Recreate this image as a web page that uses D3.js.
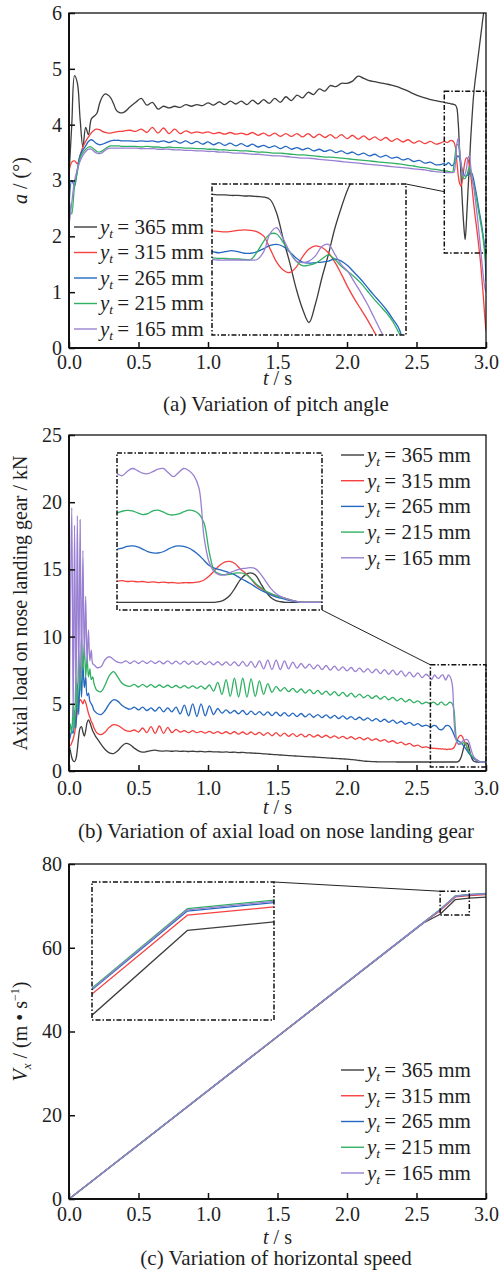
<!DOCTYPE html>
<html><head><meta charset="utf-8">
<script src="https://cdn.jsdelivr.net/npm/d3@7"></script>
<style>
body{margin:0;background:#fff;}
svg, svg text{font-family:'Liberation Serif',serif;fill:#1e1e1e;}
</style></head><body>
<svg id="c" width="501" height="1270"></svg>
<script>
// ---------- shared ----------
const seriesNames = ["365", "315", "265", "215", "165"];
const seriesColors = ["#3d3d3d", "#f5403f", "#2367c1", "#2fb062", "#9a80d2"];
const timeTicks = [0, 0.5, 1.0, 1.5, 2.0, 2.5, 3.0];
const pitchTicks = [0, 1, 2, 3, 4, 5, 6];
const loadTicks = [0, 5, 10, 15, 20, 25];
const speedTicks = [0, 20, 40, 60, 80];

// ---------- (a) pitch angle ----------
const tA = [0,0.02,0.04,0.06,0.08,0.10,0.12,0.14,0.16,0.18,0.20,0.22,0.24,0.26,0.28,0.30,0.32,0.34,0.36,0.38,0.40,
0.44,0.48,0.52,0.56,0.60,0.64,0.68,0.72,0.76,0.80,
0.84,0.88,0.92,0.96,1.00,1.04,1.08,1.12,1.16,1.20,
1.24,1.28,1.32,1.36,1.40,1.44,1.48,1.52,1.56,1.60,
1.64,1.68,1.72,1.76,1.80,1.84,1.88,1.92,1.96,2.00,
2.04,2.08,2.12,2.16,2.20,2.24,2.28,2.32,2.36,2.40,
2.44,2.48,2.52,2.56,2.60,2.64,2.68,
2.70,2.71,2.72,2.73,2.74,2.75,2.76,2.77,2.78,2.79,
2.80,2.81,2.82,2.83,2.84,2.85,2.86,2.87,2.88,2.89,
2.90,2.91,2.92,2.93,2.94,2.95,2.96,2.97,2.98,2.99,3.00];
const pitch365 = [3.1,4.0,4.88,4.75,4.1,3.6,3.95,3.82,4.1,4.15,4.2,4.38,4.5,4.55,4.53,4.48,4.38,4.26,4.22,4.21,4.23,
4.32,4.40,4.47,4.35,4.40,4.28,4.33,4.30,4.33,4.31,
4.36,4.33,4.36,4.34,4.39,4.35,4.41,4.36,4.42,4.37,
4.42,4.36,4.44,4.37,4.45,4.38,4.47,4.40,4.50,4.43,
4.53,4.48,4.58,4.54,4.64,4.60,4.70,4.68,4.74,4.74,
4.78,4.87,4.83,4.79,4.77,4.75,4.73,4.71,4.68,4.64,
4.60,4.55,4.51,4.48,4.45,4.43,4.41,
4.40,4.39,4.39,4.38,4.38,4.37,4.37,4.36,4.35,4.30,
4.04,3.55,3.10,2.60,2.20,1.94,2.30,2.80,3.25,3.75,
4.15,4.50,4.75,4.95,5.15,5.35,5.55,5.75,5.95,6.10,6.20];
const pitch315 = [3.15,3.33,3.35,3.30,3.45,3.60,3.70,3.78,3.85,3.90,3.92,3.91,3.88,3.86,3.85,3.85,3.86,3.87,3.88,3.88,3.89,
3.90,3.88,3.92,3.86,3.95,3.85,3.94,3.84,3.92,3.84,
3.89,3.85,3.87,3.85,3.87,3.84,3.86,3.83,3.86,3.83,
3.85,3.82,3.86,3.81,3.85,3.80,3.85,3.79,3.84,3.79,
3.84,3.78,3.84,3.77,3.83,3.77,3.82,3.76,3.82,3.75,
3.81,3.74,3.80,3.73,3.78,3.72,3.77,3.70,3.75,3.69,
3.73,3.67,3.71,3.66,3.70,3.65,3.68,
3.70,3.69,3.68,3.69,3.71,3.72,3.71,3.68,3.60,3.35,
3.10,2.95,2.90,3.00,3.20,3.35,3.41,3.38,3.28,3.10,
2.87,2.62,2.40,2.20,2.00,1.78,1.55,1.25,0.95,0.60,0.30];
const pitch265 = [2.50,3.00,2.90,3.20,3.45,3.55,3.62,3.70,3.73,3.70,3.66,3.64,3.65,3.67,3.69,3.71,3.72,3.72,3.72,3.71,3.71,
3.71,3.70,3.71,3.70,3.71,3.69,3.71,3.68,3.71,3.67,
3.71,3.66,3.70,3.65,3.69,3.64,3.68,3.63,3.67,3.62,
3.66,3.61,3.65,3.60,3.63,3.59,3.62,3.57,3.61,3.56,
3.59,3.55,3.58,3.53,3.56,3.52,3.55,3.50,3.53,3.48,
3.51,3.46,3.49,3.44,3.47,3.42,3.45,3.40,3.42,3.37,
3.39,3.34,3.36,3.31,3.33,3.28,3.29,
3.30,3.28,3.30,3.32,3.30,3.27,3.27,3.30,3.36,3.42,
3.44,3.40,3.30,3.18,3.10,3.08,3.09,3.10,3.12,3.16,
3.12,3.03,2.90,2.77,2.62,2.47,2.33,2.18,2.00,1.80,1.20];
const pitch215 = [2.70,2.40,2.90,3.15,3.40,3.50,3.56,3.60,3.60,3.56,3.52,3.51,3.53,3.57,3.60,3.62,3.62,3.62,3.62,3.61,3.61,
3.61,3.61,3.60,3.61,3.60,3.60,3.59,3.60,3.59,3.59,
3.58,3.58,3.57,3.57,3.56,3.56,3.55,3.55,3.54,3.54,
3.53,3.53,3.52,3.51,3.51,3.50,3.49,3.49,3.48,3.47,
3.46,3.46,3.45,3.44,3.43,3.42,3.42,3.41,3.40,3.39,
3.38,3.37,3.36,3.35,3.34,3.33,3.32,3.31,3.30,3.29,
3.27,3.26,3.24,3.23,3.21,3.20,3.18,
3.18,3.17,3.17,3.16,3.16,3.15,3.15,3.30,3.50,3.64,
3.64,3.48,3.30,3.12,3.03,3.04,3.08,3.16,3.24,3.15,
3.02,2.92,2.82,2.70,2.55,2.40,2.26,2.12,1.95,1.72,1.50];
const pitch165 = [2.20,2.60,3.00,3.20,3.35,3.45,3.52,3.56,3.56,3.52,3.49,3.48,3.50,3.54,3.57,3.58,3.58,3.58,3.58,3.58,3.58,
3.58,3.58,3.57,3.57,3.57,3.56,3.56,3.56,3.55,3.55,
3.54,3.54,3.53,3.53,3.52,3.52,3.51,3.51,3.50,3.49,
3.49,3.48,3.47,3.47,3.46,3.45,3.44,3.44,3.43,3.42,
3.41,3.40,3.40,3.39,3.38,3.37,3.36,3.35,3.34,3.33,
3.32,3.31,3.30,3.29,3.28,3.27,3.26,3.25,3.24,3.23,
3.22,3.21,3.20,3.19,3.17,3.16,3.15,
3.15,3.14,3.14,3.14,3.14,3.14,3.14,3.15,3.30,3.65,
3.76,3.55,3.30,3.12,3.09,3.12,3.22,3.40,3.44,3.25,
3.05,2.92,2.72,2.52,2.30,2.05,1.80,1.55,1.30,1.10,1.00];

// ---------- (b) axial load ----------
const tB = [0,0.01,0.02,0.03,0.04,0.05,0.06,0.07,0.08,0.09,0.10,0.11,0.12,0.13,0.14,0.15,0.16,0.17,0.18,0.19,
0.20,0.23,0.26,0.29,0.32,0.35,0.38,0.41,0.44,0.47,
0.50,0.53,0.56,0.59,0.62,0.65,0.68,0.71,0.74,0.77,
0.80,0.83,0.86,0.89,0.92,0.95,0.98,1.01,1.04,1.07,
1.10,1.13,1.16,1.19,1.22,1.25,1.28,1.31,1.34,1.37,
1.40,1.43,1.46,1.49,1.52,1.55,1.58,1.61,1.64,1.67,
1.70,1.73,1.76,1.79,1.82,1.85,1.88,1.91,1.94,1.97,
2.00,2.03,2.06,2.09,2.12,2.15,2.18,2.21,2.24,2.27,
2.30,2.33,2.36,2.39,2.42,2.45,2.48,2.51,2.54,2.57,
2.60,
2.61,2.62,2.63,2.64,2.65,2.66,2.67,2.68,2.69,2.70,
2.71,2.72,2.73,2.74,2.75,2.76,2.77,2.78,2.79,2.80,
2.81,2.82,2.83,2.84,2.85,2.86,2.87,2.88,2.89,2.90,
2.91,2.92,2.93,2.94,2.95,2.96,2.97,2.98,2.99,3.00];
const load365 = [1.9,1.5,1.0,0.75,0.7,0.9,1.6,2.6,3.2,3.3,2.9,2.6,3.0,3.6,3.8,3.6,3.3,3.0,2.8,2.6,
2.45,2.0,1.6,1.35,1.3,1.5,1.85,2.05,1.95,1.7,
1.5,1.4,1.45,1.52,1.55,1.5,1.48,1.5,1.47,1.5,
1.46,1.48,1.45,1.47,1.44,1.46,1.43,1.45,1.42,1.43,
1.40,1.42,1.39,1.40,1.37,1.38,1.35,1.34,1.32,1.31,
1.28,1.26,1.23,1.22,1.19,1.17,1.15,1.13,1.11,1.09,
1.07,1.05,1.04,1.02,1.0,0.98,0.96,0.94,0.92,0.9,
0.88,0.85,0.82,0.78,0.74,0.72,0.70,0.69,0.68,0.68,
0.68,0.68,0.67,0.67,0.67,0.67,0.67,0.67,0.67,0.67,
0.67,
0.67,0.67,0.67,0.67,0.67,0.67,0.67,0.67,0.67,0.67,
0.67,0.67,0.67,0.67,0.67,0.67,0.67,0.67,0.67,0.70,
0.80,1.00,1.35,1.75,2.00,2.10,2.00,1.60,1.20,0.90,
0.75,0.70,0.67,0.67,0.67,0.67,0.67,0.67,0.67,0.67];
const load315 = [1.9,1.9,2.1,2.4,2.8,3.6,4.4,5.0,5.3,5.2,5.0,5.3,5.1,4.7,4.3,4.0,3.7,3.5,3.2,3.0,
2.85,2.70,2.90,3.25,3.45,3.40,3.20,3.00,2.95,3.05,
2.90,3.20,2.85,3.30,2.80,3.35,2.80,3.25,2.85,3.10,
2.90,3.00,2.85,3.00,2.85,2.95,2.82,2.95,2.80,2.93,
2.78,2.92,2.76,2.92,2.74,2.90,2.72,2.90,2.70,2.88,
2.66,2.86,2.62,2.85,2.60,2.82,2.58,2.78,2.56,2.75,
2.54,2.72,2.52,2.68,2.50,2.66,2.46,2.62,2.43,2.58,
2.40,2.55,2.36,2.50,2.32,2.46,2.28,2.40,2.22,2.33,
2.15,2.25,2.05,2.15,1.95,2.05,1.85,1.92,1.75,1.80,
1.70,
1.72,1.68,1.70,1.66,1.68,1.64,1.66,1.63,1.65,1.62,
1.63,1.60,1.62,1.62,1.63,1.66,1.75,1.95,2.20,2.45,
2.62,2.65,2.55,2.30,2.10,1.85,1.55,1.35,1.20,1.08,
1.00,0.92,0.85,0.78,0.72,0.68,0.67,0.67,0.67,0.67];
const load265 = [2.2,2.6,3.0,2.8,4.5,3.2,6.5,4.2,7.8,5.5,8.0,6.2,7.0,5.6,5.8,5.2,5.0,4.8,4.5,4.4,
4.30,4.20,4.50,5.00,5.30,5.20,4.90,4.70,4.60,4.75,
4.55,4.75,4.50,4.70,4.45,4.75,4.40,4.70,4.40,4.75,
4.25,4.90,4.10,5.00,4.05,5.00,4.10,4.85,4.20,4.65,
4.30,4.55,4.30,4.50,4.25,4.50,4.20,4.45,4.20,4.42,
4.15,4.40,4.12,4.38,4.10,4.35,4.08,4.30,4.05,4.28,
4.02,4.25,4.00,4.20,3.97,4.17,3.94,4.14,3.90,4.10,
3.86,4.05,3.82,4.00,3.78,3.95,3.73,3.90,3.68,3.85,
3.62,3.78,3.55,3.70,3.48,3.62,3.40,3.52,3.33,3.42,
3.25,
3.30,3.38,3.40,3.36,3.25,3.13,3.07,3.06,3.12,3.25,
3.36,3.40,3.38,3.30,3.15,2.95,2.70,2.45,2.33,2.25,
2.18,2.10,2.00,1.85,1.72,1.58,1.42,1.27,1.15,1.03,
0.94,0.87,0.80,0.74,0.70,0.67,0.67,0.67,0.67,0.67];
const load215 = [2.5,3.5,2.8,5.0,3.2,7.0,4.5,9.0,6.0,10.0,7.5,9.5,7.0,8.5,7.0,7.6,6.8,7.0,6.5,6.2,
6.00,5.90,6.40,7.10,7.40,7.00,6.55,6.35,6.30,6.45,
6.25,6.45,6.25,6.42,6.22,6.40,6.22,6.38,6.20,6.36,
6.18,6.35,6.16,6.34,6.15,6.32,6.10,6.40,5.95,6.60,
5.70,6.80,5.55,6.90,5.50,6.90,5.50,6.85,5.55,6.70,
5.70,6.50,5.85,6.30,5.95,6.20,5.90,6.15,5.85,6.10,
5.80,6.05,5.75,6.00,5.70,5.95,5.65,5.90,5.60,5.85,
5.55,5.80,5.50,5.72,5.45,5.65,5.40,5.60,5.35,5.55,
5.30,5.48,5.22,5.40,5.15,5.32,5.08,5.22,5.00,5.12,
5.00,
5.08,5.12,5.10,5.00,4.92,4.96,5.10,5.13,5.05,4.93,
4.90,4.95,5.05,5.13,5.10,4.95,4.50,3.10,2.20,2.05,
2.00,2.02,2.08,2.10,2.05,1.85,1.60,1.40,1.22,1.10,
1.00,0.92,0.85,0.78,0.72,0.67,0.67,0.67,0.67,0.67];
const load165 = [2.0,12.0,19.6,4.0,18.3,5.0,19.0,6.5,18.7,7.0,16.4,8.5,13.0,8.0,10.5,8.2,9.0,8.0,7.9,7.8,
7.70,7.75,8.30,8.50,8.30,8.10,8.05,8.20,8.00,8.20,
8.00,8.20,8.00,8.20,8.00,8.18,7.98,8.20,7.97,8.18,
7.95,8.17,7.94,8.17,7.93,8.15,7.92,8.14,7.90,8.13,
7.88,8.12,7.86,8.12,7.82,8.15,7.78,8.15,7.70,8.20,
7.60,8.25,7.55,8.25,7.55,8.20,7.60,8.10,7.65,8.00,
7.65,7.95,7.60,7.90,7.55,7.85,7.50,7.80,7.48,7.75,
7.45,7.70,7.40,7.65,7.35,7.62,7.30,7.58,7.25,7.55,
7.20,7.50,7.15,7.45,7.05,7.35,7.00,7.30,6.95,7.20,
6.90,
6.80,7.00,7.15,7.05,6.92,6.90,7.00,7.12,7.15,6.95,
6.76,6.95,7.15,7.05,6.80,6.20,3.80,2.60,2.15,2.00,
2.00,2.10,2.20,2.28,2.32,2.35,2.30,2.05,1.70,1.35,
1.10,0.95,0.85,0.77,0.72,0.67,0.67,0.67,0.67,0.67];

// ---------- (c) horizontal speed ----------
const tC = [0, 2.55, 2.67, 2.78, 2.88, 3.0];
const speed365 = [0, 65.9, 68.0, 71.5, 71.85, 72.1];
const speed315 = [0, 65.95, 68.87, 72.13, 72.47, 72.7];
const speed265 = [0, 66.0, 69.05, 72.3, 72.65, 72.85];
const speed215 = [0, 66.0, 69.12, 72.4, 72.75, 72.95];
const speed165 = [0, 66.0, 69.08, 72.35, 72.7, 72.9];

// ---------- drawing ----------
const FONTFAM = "'Liberation Serif',serif";
const svg = d3.select("#c");
const FONT = 20;

function legend(g, x1, y0, step) {
  seriesNames.forEach((nm, i) => {
    const yy = y0 + i * step;
    g.append("line").attr("x1", x1).attr("x2", x1 + 23).attr("y1", yy).attr("y2", yy)
      .attr("stroke", seriesColors[i]).attr("stroke-width", 1.4);
    const t = g.append("text").attr("x", x1 + 26).attr("y", yy + 6.8).attr("font-size", 21).style("font-family", FONTFAM);
    t.append("tspan").attr("font-style", "italic").text("y");
    t.append("tspan").attr("font-style", "italic").attr("font-size", 13.5).attr("dy", 4).text("t");
    t.append("tspan").attr("dy", -4).text("\u2009= " + nm + " mm");
  });
}

function panel(p) {
  const x = d3.scaleLinear().domain([0, 3]).range([p.L, p.R]);
  const y = d3.scaleLinear().domain(p.yDom).range([p.B, p.T]);
  const g = svg.append("g");
  const defs = svg.append("defs");
  defs.append("clipPath").attr("id", "clip" + p.id).append("rect")
    .attr("x", p.L).attr("y", p.T).attr("width", p.R - p.L).attr("height", p.B - p.T);
  defs.append("clipPath").attr("id", "iclip" + p.id).append("rect")
    .attr("x", p.inset[0]).attr("y", p.inset[1]).attr("width", p.inset[2] - p.inset[0]).attr("height", p.inset[3] - p.inset[1]);

  const pts = vals => vals.slice(0, Math.min(vals.length, p.t.length)).map((v, j) => [p.t[j], v]);

  const lg = g.append("g").attr("clip-path", `url(#clip${p.id})`);
  const line = d3.line().x(d => x(d[0])).y(d => y(d[1])).curve(p.curve);
  p.series.forEach((vals, i) => {
    lg.append("path").attr("d", line(pts(vals))).attr("fill", "none")
      .attr("stroke", seriesColors[i]).attr("stroke-width", 1.3).attr("stroke-linejoin", "round");
  });

  // frame
  g.append("rect").attr("x", p.L).attr("y", p.T).attr("width", p.R - p.L).attr("height", p.B - p.T)
    .attr("fill", "none").attr("stroke", "#111").attr("stroke-width", 1.3);
  g.append("line").attr("x1", p.L).attr("x2", p.L).attr("y1", p.T).attr("y2", p.B).attr("stroke", "#111").attr("stroke-width", 2);
  g.append("line").attr("x1", p.L).attr("x2", p.R).attr("y1", p.B).attr("y2", p.B).attr("stroke", "#111").attr("stroke-width", 2);

  const ax = g.append("g").attr("transform", `translate(0,${p.B})`)
    .call(d3.axisBottom(x).tickValues(timeTicks).tickFormat(d3.format(".1f")).tickSizeInner(-6).tickSizeOuter(0).tickPadding(p.xPad));
  const ay = g.append("g").attr("transform", `translate(${p.L},0)`)
    .call(d3.axisLeft(y).tickValues(p.yTicks).tickFormat(d3.format("d")).tickSizeInner(-6).tickSizeOuter(0).tickPadding(7));
  [ax, ay].forEach(a => {
    a.select(".domain").remove();
    a.attr("font-family", null).attr("font-size", FONT);
    a.selectAll("line").attr("stroke", "#111").attr("stroke-width", 1.5);
    a.selectAll("text").attr("fill", "#1e1e1e").style("font-family", FONTFAM);
  });

  // zoom window
  const zx0 = x(p.zoomT[0]), zx1 = x(p.zoomT[1]), zy0 = y(p.zoomV[1]), zy1 = y(p.zoomV[0]);
  g.append("rect").attr("x", zx0).attr("y", zy0).attr("width", zx1 - zx0).attr("height", zy1 - zy0)
    .attr("fill", "none").attr("stroke", "#111").attr("stroke-width", 1.5).attr("stroke-dasharray", "5,2,1.5,2");

  // inset
  const [ix0, iy0, ix1, iy1] = p.inset;
  const xi = d3.scaleLinear().domain(p.zoomT).range([ix0, ix1]);
  const yi = d3.scaleLinear().domain(p.zoomV).range([iy1, iy0]);
  g.append("rect").attr("x", ix0).attr("y", iy0).attr("width", ix1 - ix0).attr("height", iy1 - iy0).attr("fill", "#fff");
  const ig = g.append("g").attr("clip-path", `url(#iclip${p.id})`);
  const iline = d3.line().x(d => xi(d[0])).y(d => yi(d[1])).curve(p.curve);
  p.series.forEach((vals, i) => {
    ig.append("path").attr("d", iline(pts(vals))).attr("fill", "none")
      .attr("stroke", seriesColors[i]).attr("stroke-width", 1.3).attr("stroke-linejoin", "round");
  });
  g.append("rect").attr("x", ix0).attr("y", iy0).attr("width", ix1 - ix0).attr("height", iy1 - iy0)
    .attr("fill", "none").attr("stroke", "#111").attr("stroke-width", 1.5).attr("stroke-dasharray", "5,2,1.5,2");

  // connector
  const c = p.connector(x, y, p.inset);
  g.append("line").attr("x1", c[0]).attr("y1", c[1]).attr("x2", c[2]).attr("y2", c[3])
    .attr("stroke", "#222").attr("stroke-width", 1);

  legend(g, p.legX, p.legY, p.legStep);

  // x title
  const xt = g.append("text").attr("x", (p.L + p.R) / 2).attr("y", p.xTitleY).attr("text-anchor", "middle")
    .attr("font-size", FONT).style("font-family", FONTFAM);
  xt.append("tspan").attr("font-style", "italic").text("t");
  xt.append("tspan").text(" / s");
  // y title
  const yt = g.append("text").attr("transform", `translate(27,${(p.T + p.B) / 2}) rotate(-90)`)
    .attr("text-anchor", "middle").attr("font-size", FONT).style("font-family", FONTFAM);
  p.yTitle(yt);
  // caption
  g.append("text").attr("x", 276).attr("y", p.capY).attr("text-anchor", "middle").attr("font-size", 21)
    .style("font-family", FONTFAM).text(p.caption);
}

panel({
  id: "a", L: 69, R: 486, T: 13, B: 348, yDom: [0, 6], yTicks: pitchTicks, xPad: 7,
  t: tA, series: [pitch365, pitch315, pitch265, pitch215, pitch165],
  curve: d3.curveCatmullRom.alpha(0.5),
  zoomT: [2.7, 3.0], zoomV: [1.7, 4.6], inset: [212, 184, 406, 335],
  connector: (x, y, r) => [r[2], r[1], x(2.7), y(2.8)],
  legX: 74, legY: 227, legStep: 25.5,
  xTitleY: 385, capY: 411, caption: "(a) Variation of pitch angle",
  yTitle: t => { t.append("tspan").attr("font-style", "italic").text("a"); t.append("tspan").text(" / (°)"); }
});

panel({
  id: "b", L: 69, R: 486, T: 435, B: 771, yDom: [0, 25], yTicks: loadTicks, xPad: 10,
  t: tB, series: [load365, load315, load265, load215, load165],
  curve: d3.curveCatmullRom.alpha(0.5),
  zoomT: [2.6, 3.0], zoomV: [0.3, 7.9], inset: [117, 453, 322, 610],
  connector: (x, y, r) => [r[2], r[3], x(2.6), y(7.9)],
  legX: 341, legY: 455, legStep: 25.7,
  xTitleY: 814, capY: 838, caption: "(b) Variation of axial load on nose landing gear",
  yTitle: t => { t.text("Axial load on nose landing gear / kN"); }
});

panel({
  id: "c", L: 69, R: 486, T: 864, B: 1199, yDom: [0, 80], yTicks: speedTicks, xPad: 8,
  t: tC, series: [speed365, speed315, speed265, speed215, speed165],
  curve: d3.curveLinear,
  zoomT: [2.67, 2.88], zoomV: [67.8, 73.5], inset: [92, 882, 274, 1020],
  connector: (x, y, r) => [r[2], r[1], x(2.67), y(73.5)],
  legX: 341, legY: 1070, legStep: 25.75,
  xTitleY: 1244, capY: 1265, caption: "(c) Variation of horizontal speed",
  yTitle: t => {
    t.append("tspan").attr("font-style", "italic").text("V");
    t.append("tspan").attr("font-style", "italic").attr("font-size", 13).attr("dy", 4).text("x");
    t.append("tspan").attr("dy", -4).text(" / (m \u2022 s");
    t.append("tspan").attr("font-size", 12).attr("dy", -8).text("\u22121");
    t.append("tspan").attr("dy", 8).text(")");
  }
});
</script>
</body></html>
